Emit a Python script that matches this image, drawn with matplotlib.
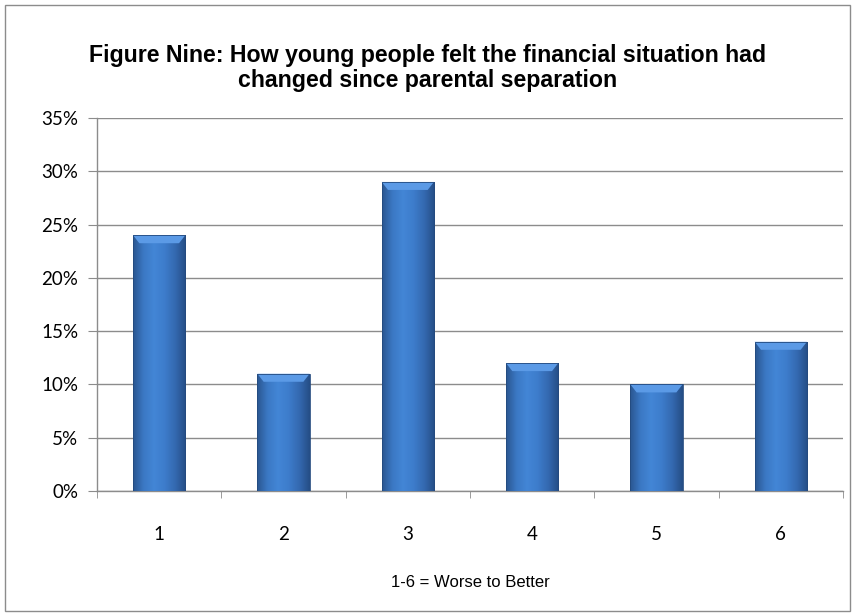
import matplotlib
matplotlib.use("Agg")
import matplotlib.pyplot as plt
import numpy as np
from matplotlib.colors import LinearSegmentedColormap
from matplotlib.patches import Rectangle, Polygon
from matplotlib.ticker import FuncFormatter, MultipleLocator

categories = ["1", "2", "3", "4", "5", "6"]
values = [24, 11, 29, 12, 10, 14]
title = "Figure Nine: How young people felt the financial situation had\nchanged since parental separation"
xlabel = "1-6 = Worse to Better"

fig = plt.figure(figsize=(8.55, 6.16), dpi=100)
fig.patch.set_facecolor("white")
# outer border
fig.add_artist(Rectangle((5/855, 5/616), 845/855, 606/616, transform=fig.transFigure,
                         fill=False, edgecolor="#8c8c8c", linewidth=1.0))

ax = fig.add_axes([97/855, 1-491/616, 746/855, 373/616])
x = np.arange(len(categories))
width = 0.42
bars = ax.bar(x, values, width=width, color="#3a74bd", zorder=3, edgecolor="none")

cmap = LinearSegmentedColormap.from_list("cyl", ["#2a5690", "#3b78c4", "#4386d6", "#3d7ccb", "#3469b0", "#254d85"])
grad = np.linspace(0, 1, 256).reshape(1, -1)
for b in bars:
    x0, y0 = b.get_x(), b.get_y()
    w, h = b.get_width(), b.get_height()
    im = ax.imshow(grad, cmap=cmap, extent=[x0, x0 + w, y0, y0 + h], aspect="auto", zorder=4)
    im.set_clip_path(b)
    # top bevel
    bh = 0.75
    inset = w * 0.12
    top = y0 + h
    ax.add_patch(Polygon([[x0, top], [x0 + w, top], [x0 + w - inset, top - bh], [x0 + inset, top - bh]],
                         closed=True, facecolor="#5b9ae6", edgecolor="none", zorder=5))
    ax.add_patch(Rectangle((x0, y0), w, h, fill=False, edgecolor="#244a7e", linewidth=0.6, zorder=6))

ax.set_xlim(-0.5, len(categories) - 0.5)
ax.set_ylim(0, 35)
ax.yaxis.set_major_locator(MultipleLocator(5))
ax.yaxis.set_major_formatter(FuncFormatter(lambda v, p: f"{int(v)}%"))
ax.grid(axis="y", color="#8c8c8c", linewidth=1.0, zorder=0)
ax.set_axisbelow(True)
ax.set_xticks(x)
ax.set_xticklabels(categories)
ax.set_xticks(np.arange(-0.5, len(categories)), minor=True)
ax.tick_params(axis="x", which="major", length=0, pad=25, labelsize=13.5)
ax.tick_params(axis="x", which="minor", length=5, color="#8c8c8c", direction="out")
ax.tick_params(axis="y", length=6.5, color="#8c8c8c", direction="out", labelsize=13.5, pad=7)
for lab in ax.get_xticklabels() + ax.get_yticklabels():
    lab.set_fontfamily("Lato")
for s in ["top", "right"]:
    ax.spines[s].set_visible(False)
for s in ["left", "bottom"]:
    ax.spines[s].set_color("#8c8c8c")
    ax.spines[s].set_linewidth(1.0)

ax.set_xlabel(xlabel, fontsize=12, fontfamily="Liberation Sans", labelpad=23)
fig.text(0.5, 1 - 68/616, title, ha="center", va="center", fontsize=16.7, fontweight="bold",
         fontfamily="Liberation Sans", linespacing=1.1)

fig.savefig("out.png", dpi=100)
